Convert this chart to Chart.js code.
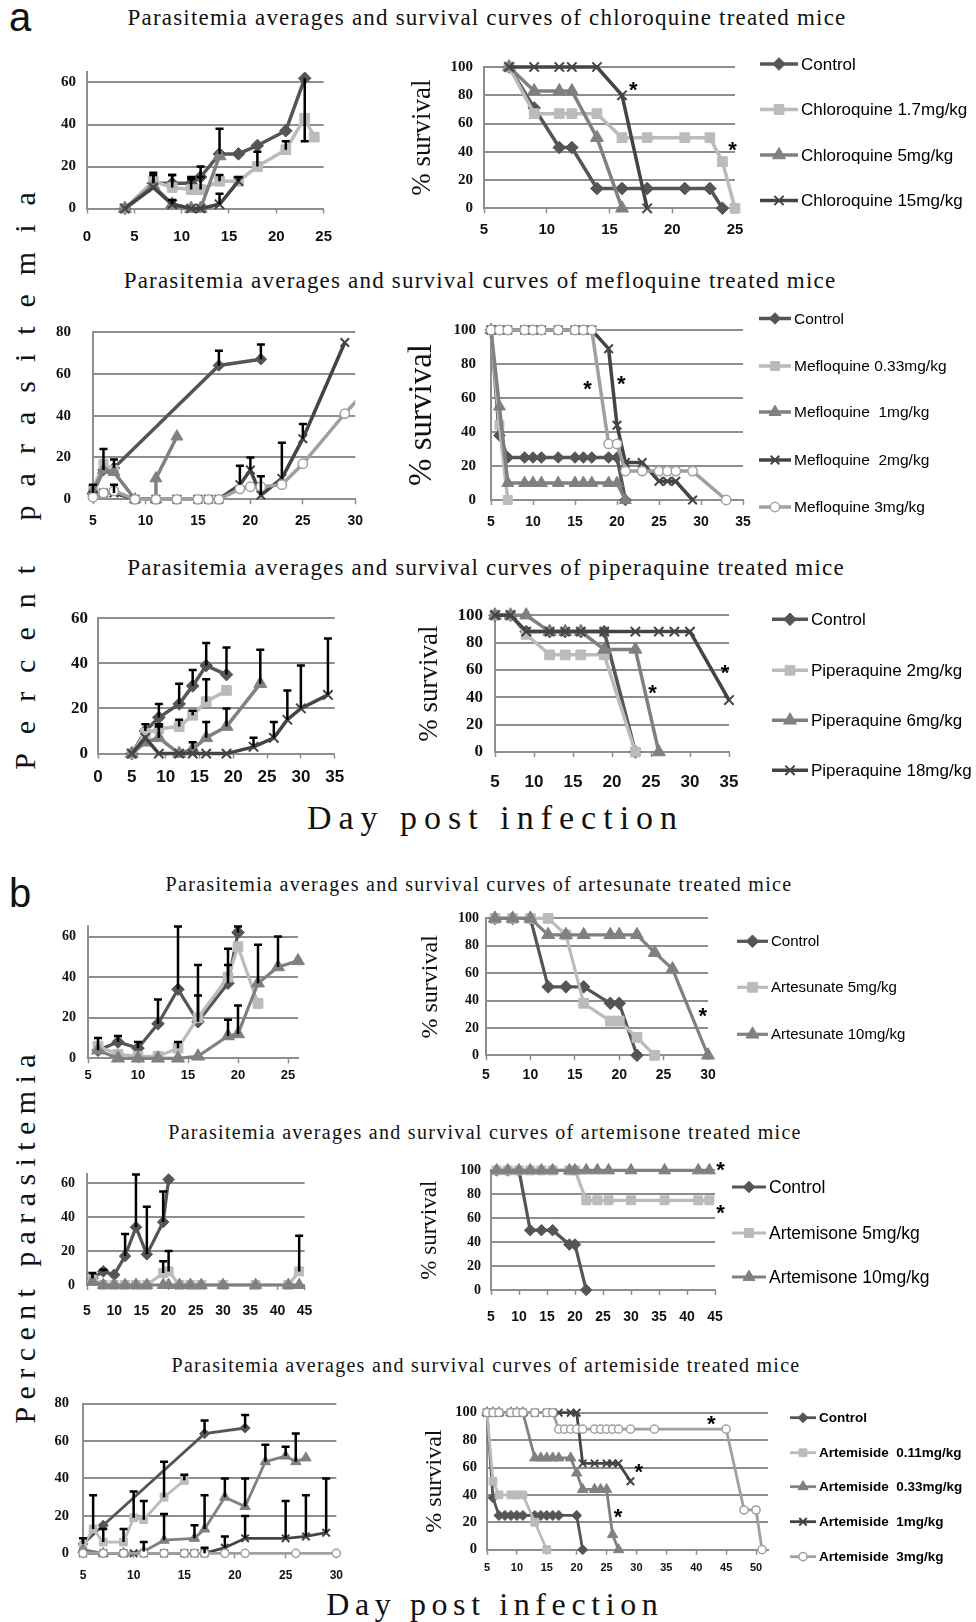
<!DOCTYPE html>
<html>
<head>
<meta charset="utf-8">
<script src="https://cdn.jsdelivr.net/npm/chart.js@4.4.0/dist/chart.umd.min.js"></script>
<style>
  html, body { margin: 0; padding: 0; background: #fff; }
  body { width: 976px; height: 1622px; position: relative; overflow: hidden; }
  .t { position: absolute; white-space: nowrap; line-height: 1; color: #111; }
  .serif { font-family: "Liberation Serif", "Times New Roman", serif; }
  .sans { font-family: "Liberation Sans", Arial, sans-serif; }
  .c { transform: translateX(-50%); }
  .rot { transform: translate(-50%, -50%) rotate(-90deg); }
  canvas { position: absolute; }
</style>
</head>
<body>

<div class="t sans" style="left:9px;top:-3px;font-size:40px">a</div>
<div class="t sans" style="left:9px;top:873px;font-size:40px">b</div>

<div class="t serif c" style="left:487px;top:5.7px;font-size:23px;letter-spacing:1.2px">Parasitemia averages and survival curves of chloroquine treated mice</div>
<div class="t serif c" style="left:480px;top:268.7px;font-size:23px;letter-spacing:1.2px">Parasitemia averages and survival curves of mefloquine treated mice</div>
<div class="t serif c" style="left:486px;top:555.7px;font-size:23px;letter-spacing:1.2px">Parasitemia averages and survival curves of piperaquine treated mice</div>
<div class="t serif c" style="left:479px;top:874px;font-size:20px;letter-spacing:1.3px">Parasitemia averages and survival curves of artesunate treated mice</div>
<div class="t serif c" style="left:485px;top:1122px;font-size:20px;letter-spacing:1.3px">Parasitemia averages and survival curves of artemisone treated mice</div>
<div class="t serif c" style="left:486px;top:1355px;font-size:20px;letter-spacing:1.3px">Parasitemia averages and survival curves of artemiside treated mice</div>

<div class="t serif rot" style="left:25px;top:481px;font-size:30px;letter-spacing:19px;padding-left:19px">Percent parasitemia</div>
<div class="t serif rot" style="left:25px;top:1239px;font-size:30px;letter-spacing:7.4px;padding-left:7.4px">Percent parasitemia</div>

<div class="t serif c" style="left:492px;top:801px;font-size:34px;letter-spacing:7px;padding-left:7px">Day post infection</div>
<div class="t serif c" style="left:492px;top:1588px;font-size:32px;letter-spacing:5.6px;padding-left:5.6px">Day post infection</div>

<script>
// ---- data: [day, value, error bar (optional)] ----
const cqParaControl = [[4,0],[7,12,5],[9,12,4],[11,12,3],[12,15,5],[14,26,12],[16,26],[18,30],[21,37],[23,62,-30]];
const cqPara17 = [[4,0],[7,13,3],[9,10,6],[11,9,5],[12,9,6],[14,13,3],[16,13],[18,20,7],[21,28,4],[23,43],[24,34]];
const cqPara5 = [[4,0],[7,11],[9,2,2],[11,0],[12,0],[14,25]];
const cqPara15 = [[4,0],[7,10],[9,2],[11,0],[12,0],[14,2,5],[16,13,2]];
const cqSurvControl = [[7,100],[9,71],[11,43],[12,43],[14,14],[16,14],[18,14],[21,14],[23,14],[24,0]];
const cqSurv17 = [[7,100],[9,67],[11,67],[12,67],[14,67],[16,50],[18,50],[21,50],[23,50],[24,33],[25,0]];
const cqSurv5 = [[7,100],[9,83],[11,83],[12,83],[14,50],[16,0]];
const cqSurv15 = [[7,100],[9,100],[11,100],[12,100],[14,100],[16,80],[18,0]];
const cqStars = [[16.9,86],[24.8,43]];
const cqNames = ['Control','Chloroquine 1.7mg/kg','Chloroquine 5mg/kg','Chloroquine 15mg/kg'];

const mqParaControl = [[5,3,4],[6,14,10],[7,15,4],[17,64,7],[21,67,7]];
const mqPara033 = [[5,5],[6,17],[7,14]];
const mqPara1 = [[5,4],[6,14],[7,13],[9,0],[11,0],[11,10],[13,30]];
const mqPara2 = [[5,2],[6,3],[7,3,4],[9,0],[11,0],[13,0],[15,0],[16,0],[17,0],[19,7,9],[20,14,6],[21,2,9],[23,10,17],[25,29,7],[29,75]];
const mqPara3 = [[5,1],[6,3],[7,4],[9,0],[11,0],[13,0],[15,0],[16,0],[17,0],[19,5],[20,6],[21,6],[23,7],[25,17],[29,41],[31,52]];
const mqSurvControl = [[5,100],[6,38],[7,25],[9,25],[10,25],[11,25],[13,25],[15,25],[16,25],[17,25],[19,25],[20,25],[21,0]];
const mqSurv033 = [[5,100],[6,44],[7,0]];
const mqSurv1 = [[5,100],[6,55],[7,10],[9,10],[10,10],[11,10],[13,10],[15,10],[16,10],[17,10],[19,10],[20,10],[21,0]];
const mqSurv2 = [[5,100],[6,100],[7,100],[9,100],[10,100],[11,100],[13,100],[15,100],[16,100],[17,100],[19,89],[20,44],[21,22],[23,22],[25,11],[26,11],[27,11],[29,0]];
const mqSurv3 = [[5,100],[6,100],[7,100],[9,100],[10,100],[11,100],[13,100],[15,100],[16,100],[17,100],[19,33],[20,33],[21,17],[23,17],[25,17],[26,17],[27,17],[29,17],[33,0]];
const mqStars = [[16.5,67],[20.5,70]];
const mqNames = ['Control','Mefloquine 0.33mg/kg','Mefloquine  1mg/kg','Mefloquine  2mg/kg','Mefloquine 3mg/kg'];

const ppParaControl = [[5,0],[7,10,3],[9,16,6],[12,22,9],[14,30,7],[16,39,10],[19,35,12]];
const ppPara2 = [[5,0],[7,9],[9,11,2],[12,12,3],[14,17,2],[16,23,10],[19,28]];
const ppPara6 = [[5,0],[7,5],[9,7,5],[12,0],[14,2,3],[16,7,7],[19,12,8],[24,31,15]];
const ppPara18 = [[5,0],[7,7],[9,0],[12,0],[14,0],[16,0],[19,0],[23,3,4],[26,7,7],[28,15,13],[30,20,19],[34,26,25]];
const ppSurvControl = [[5,100],[7,100],[9,88],[12,88],[14,88],[16,88],[19,88],[23,0]];
const ppSurv2 = [[5,100],[7,100],[9,86],[12,71],[14,71],[16,71],[19,71],[23,0]];
const ppSurv6 = [[5,100],[7,100],[9,100],[12,88],[14,88],[16,88],[19,75],[23,75],[26,0]];
const ppSurv18 = [[5,100],[7,100],[9,88],[12,88],[14,88],[16,88],[19,88],[23,88],[26,88],[28,88],[30,88],[35,38]];
const ppStars = [[25.2,45],[34.5,60]];
const ppNames = ['Control','Piperaquine 2mg/kg','Piperaquine 6mg/kg','Piperaquine 18mg/kg'];

const asParaControl = [[6,4,6],[8,8,3],[10,5,3],[12,17,12],[14,34,31],[16,18,28],[19,37,17],[20,62,3]];
const asPara5 = [[6,6],[8,2],[10,1],[12,1],[14,5,3],[16,20,11],[19,40,6],[20,55],[22,27]];
const asPara10 = [[6,4],[8,0],[10,0],[12,0],[14,0],[16,1],[19,11,8],[20,12,14],[22,37,19],[24,45,15],[26,48]];
const asSurvControl = [[6,100],[8,100],[10,100],[12,50],[14,50],[16,50],[19,38],[20,38],[22,0]];
const asSurv5 = [[6,100],[8,100],[10,100],[12,100],[14,88],[16,38],[19,25],[20,25],[22,13],[24,0]];
const asSurv10 = [[6,100],[8,100],[10,100],[12,88],[14,88],[16,88],[19,88],[20,88],[22,88],[24,75],[26,63],[30,0]];
const asStars = [[29.4,31]];
const asNames = ['Control','Artesunate 5mg/kg','Artesunate 10mg/kg'];

const amParaControl = [[6,4,3],[8,8,1],[10,6],[12,17,13],[14,34,31],[16,18,28],[19,37,18],[20,62]];
const amPara5 = [[6,3],[8,0],[10,0],[12,0],[14,0],[16,0],[19,7,7],[20,8,12],[22,0],[24,0],[26,0],[30,0],[36,0],[42,0],[44,8,21]];
const amPara10 = [[6,2],[8,0],[10,0],[12,0],[14,0],[16,0],[19,0],[20,0],[22,0],[24,0],[26,0],[30,0],[36,0],[42,0],[44,0]];
const amSurvControl = [[6,100],[8,100],[10,100],[12,50],[14,50],[16,50],[19,38],[20,38],[22,0]];
const amSurv5 = [[6,100],[8,100],[10,100],[12,100],[14,100],[16,100],[19,100],[20,100],[22,75],[24,75],[26,75],[30,75],[36,75],[42,75],[44,75]];
const amSurv10 = [[6,100],[8,100],[10,100],[12,100],[14,100],[16,100],[19,100],[20,100],[22,100],[24,100],[26,100],[30,100],[36,100],[42,100],[44,100]];
const amStars = [[46,103],[46,67]];
const amNames = ['Control','Artemisone 5mg/kg','Artemisone 10mg/kg'];

const aiParaControl = [[5,5,3],[7,15],[17,64,7],[21,67,7]];
const aiPara011 = [[5,4],[6,13,18],[7,6,7],[9,6,7],[10,19,14],[11,18,10],[13,30,19],[15,39,3]];
const aiPara033 = [[5,2],[7,0],[9,0],[11,1,5],[13,7,14],[16,8,7],[17,13,18],[19,30,10],[21,25,15],[23,49,9],[25,52,5],[26,49,15],[27,51]];
const aiPara1 = [[5,0],[7,0],[9,0],[10,0],[11,0],[13,0],[15,0],[16,0],[17,0,3],[19,3,6],[21,8,12],[25,8,20],[27,9,22],[29,11,29]];
const aiPara3 = [[5,0],[7,0],[9,0],[11,0],[13,0],[15,0],[16,0],[17,0],[19,0],[21,0],[26,0],[30,0]];
const aiSurvControl = [[5,100],[6,38],[7,25],[8,25],[9,25],[10,25],[11,25],[13,25],[14,25],[15,25],[16,25],[17,25],[20,25],[21,0]];
const aiSurv011 = [[5,100],[6,50],[7,40],[9,40],[10,40],[11,40],[13,20],[15,0]];
const aiSurv033 = [[5,100],[6,100],[7,100],[9,100],[10,100],[11,100],[13,67],[14,67],[15,67],[16,67],[17,67],[19,67],[20,56],[21,44],[23,44],[24,44],[25,44],[26,11],[27,0]];
const aiSurv1 = [[5,100],[6,100],[7,100],[9,100],[10,100],[11,100],[13,100],[15,100],[16,100],[17,100],[19,100],[20,100],[21,63],[23,63],[25,63],[26,63],[27,63],[29,50]];
const aiSurv3 = [[5,100],[6,100],[7,100],[9,100],[10,100],[11,100],[13,100],[15,100],[16,100],[17,88],[18,88],[19,88],[20,88],[21,88],[23,88],[24,88],[25,88],[26,88],[27,88],[29,88],[33,88],[45,88],[48,29],[50,29],[51,0]];
const aiStars = [[42.5,94],[30.4,59],[26.9,26]];
const aiNames = ['Control','Artemiside  0.11mg/kg','Artemiside  0.33mg/kg','Artemiside  1mg/kg','Artemiside  3mg/kg'];

// ---- styling ----
const GRID = '#8e8e8e';
const INK = '#111';
const STYLE = {
  ctrl: { color: '#555555', fill: '#555555', point: 'rectRot', k: 1.05 },
  sq:   { color: '#bbbbbb', fill: '#bbbbbb', point: 'rect', k: 1.15 },
  tri:  { color: '#808080', fill: '#808080', point: 'triangle', k: 1.25 },
  x:    { color: '#444444', fill: '#444444', point: 'crossRot', k: 1.1 },
  o:    { color: '#a0a0a0', fill: '#ffffff', point: 'circle', k: 0.85 }
};
const ORDER = ['ctrl', 'sq', 'tri', 'x', 'o'];

const onSteps = step => s => {
  s.ticks = s.ticks.filter(t => Math.abs(t.value / step - Math.round(t.value / step)) < 1e-6);
};

// error bars, asterisks and the line+marker legend
const extras = {
  id: 'extras',
  afterDatasetsDraw(chart, args, o) {
    const ctx = chart.ctx, xs = chart.scales.x, ys = chart.scales.y;
    ctx.save();
    ctx.strokeStyle = '#000';
    ctx.lineWidth = o.errWidth || 2.5;
    chart.data.datasets.forEach(ds => {
      (ds.errs || []).forEach((e, j) => {
        if (e == null) return;
        const p = ds.data[j];
        const px = xs.getPixelForValue(p.x);
        const y0 = ys.getPixelForValue(p.y), y1 = ys.getPixelForValue(p.y + e);
        ctx.beginPath();
        ctx.moveTo(px, y0); ctx.lineTo(px, y1);
        ctx.moveTo(px - 4, y1); ctx.lineTo(px + 4, y1);
        ctx.stroke();
      });
    });
    ctx.restore();
  },
  afterDraw(chart, args, o) {
    const ctx = chart.ctx, xs = chart.scales.x, ys = chart.scales.y;
    ctx.save();
    ctx.fillStyle = '#000';
    ctx.font = 'bold ' + o.starSize + 'px "Liberation Sans"';
    ctx.textAlign = 'center';
    ctx.textBaseline = 'alphabetic';
    (o.stars || []).forEach(s => {
      ctx.fillText('*', xs.getPixelForValue(s[0]), ys.getPixelForValue(s[1]) + o.starSize * 0.45);
    });
    const L = o.legend;
    if (L) {
      chart.data.datasets.forEach((ds, i) => {
        const y = L.ys[i] - o.top, x0 = L.x - o.left;
        ctx.strokeStyle = ds.borderColor;
        ctx.lineWidth = ds.borderWidth;
        ctx.beginPath(); ctx.moveTo(x0, y); ctx.lineTo(x0 + L.len, y); ctx.stroke();
        ctx.fillStyle = ds.pointBackgroundColor;
        ctx.strokeStyle = ds.pointBorderColor;
        ctx.lineWidth = ds.pointBorderWidth;
        Chart.helpers.drawPoint(ctx, { pointStyle: ds.pointStyle, radius: ds.pointRadius, borderWidth: ds.pointBorderWidth, rotation: 0 }, x0 + L.len / 2, y);
        ctx.fillStyle = '#000';
        ctx.font = L.font;
        ctx.textAlign = 'left';
        ctx.textBaseline = 'middle';
        ctx.fillText(L.names[i], x0 + L.len + 3, y + 1);
      });
    }
    ctx.restore();
  }
};
Chart.register(extras);

function makeChart(c) {
  const [L, T, R, B] = c.plot;
  const padT = c.padT || 14;
  const left = L - c.yW, top = T - padT;
  const w = Math.ceil(R - L + c.yW + c.padR);
  const h = Math.ceil(B - T + padT + 44);
  const xH = h - padT - (B - T);
  const cv = document.createElement('canvas');
  cv.width = w; cv.height = h;
  cv.style.left = left + 'px';
  cv.style.top = top + 'px';
  document.body.appendChild(cv);

  const datasets = c.series.map((s, i) => {
    const st = STYLE[ORDER[i]];
    return {
      data: s.map(p => ({ x: p[0], y: p[1] })),
      errs: s.map(p => (p.length > 2 ? p[2] : null)),
      showLine: true,
      borderColor: st.color,
      backgroundColor: st.fill,
      borderWidth: c.lw,
      pointStyle: st.point,
      pointRadius: c.r * st.k,
      pointBackgroundColor: st.fill,
      pointBorderColor: st.color,
      pointBorderWidth: st.point === 'crossRot' ? 2 : (st.point === 'circle' ? 1.5 : 1),
      tension: 0,
      order: -i,
      clip: c.clipRight ? { left: false, top: false, right: 0, bottom: false } : false
    };
  });

  return new Chart(cv, {
    type: 'scatter',
    data: { datasets },
    options: {
      responsive: false,
      animation: false,
      events: [],
      layout: { padding: { left: 0, top: padT, right: w - c.yW - (R - L), bottom: 0 } },
      plugins: {
        legend: { display: false },
        tooltip: { enabled: false },
        extras: {
          stars: c.stars, starSize: c.starSize || 22, errWidth: c.errWidth || 2.5,
          legend: c.names ? { names: c.names, x: c.lx, ys: c.lys, len: c.llen, font: c.lfont } : null,
          left: left, top: top
        }
      },
      scales: {
        x: {
          type: 'linear', min: c.x[0], max: c.x[1],
          afterBuildTicks: onSteps(c.x[2]),
          afterFit: s => { s.height = xH; },
          ticks: {
            stepSize: c.x[2], includeBounds: false, autoSkip: false, maxRotation: 0, minRotation: 0,
            color: INK, padding: c.xOff - 5 - 0.6 * c.xFont,
            font: { family: 'Liberation Sans', weight: 'bold', size: c.xFont }
          },
          grid: { drawOnChartArea: false, drawTicks: true, tickLength: 5, tickColor: GRID, tickWidth: 1.5 },
          border: { display: true, color: GRID, width: 2 }
        },
        y: {
          type: 'linear', min: c.y[0], max: c.y[1],
          afterBuildTicks: onSteps(c.y[2]),
          afterFit: s => { s.width = c.yW; },
          ticks: {
            stepSize: c.y[2], includeBounds: false, color: INK, padding: c.yPad,
            font: { family: 'Liberation Serif', weight: 'bold', size: c.yFont }
          },
          grid: { color: GRID, lineWidth: 2, drawTicks: false },
          border: { display: true, color: GRID, width: 2 },
          title: c.title
            ? { display: true, text: '% survival', color: INK, padding: 0, font: { family: 'Liberation Serif', size: c.title, lineHeight: 1.2 } }
            : { display: false }
        }
      }
    }
  });
}

// ---- panel a ----
makeChart({ plot: [87, 65.8, 328, 208.3], x: [0, 25, 5], y: [0, 65, 20], yW: 60, padR: 18,
  series: [cqParaControl, cqPara17, cqPara5, cqPara15], lw: 3.5, r: 6,
  xFont: 15, yFont: 15, xOff: 28, yPad: 11 });
makeChart({ plot: [484, 61, 735, 208.3], x: [5, 25, 5], y: [0, 100, 20], yW: 77, padR: 241,
  series: [cqSurvControl, cqSurv17, cqSurv5, cqSurv15], lw: 3.5, r: 6, stars: cqStars,
  xFont: 15, yFont: 15, xOff: 22, yPad: 11, title: 27,
  names: cqNames, lx: 760, lys: [64, 109.5, 155, 200.5], llen: 38, lfont: '17px "Liberation Sans"' });

makeChart({ plot: [92.7, 315, 355, 499.3], x: [5, 30, 5], y: [0, 80, 20], yW: 60, padR: 18, clipRight: true,
  series: [mqParaControl, mqPara033, mqPara1, mqPara2, mqPara3], lw: 3.5, r: 5.5,
  xFont: 14, yFont: 15, xOff: 22, yPad: 22 });
makeChart({ plot: [491, 330, 743, 500], x: [5, 35, 5], y: [0, 100, 20], yW: 88, padR: 233, padT: 30,
  series: [mqSurvControl, mqSurv033, mqSurv1, mqSurv2, mqSurv3], lw: 3.5, r: 5.5, stars: mqStars,
  xFont: 14, yFont: 15, xOff: 22, yPad: 15, title: 33,
  names: mqNames, lx: 759, lys: [318.5, 366, 412, 460, 507], llen: 32, lfont: '15.5px "Liberation Sans"' });

makeChart({ plot: [98.3, 611.7, 335, 753.3], x: [0, 35, 5], y: [0, 60, 20], yW: 60, padR: 18,
  series: [ppParaControl, ppPara2, ppPara6, ppPara18], lw: 3.5, r: 6,
  xFont: 17, yFont: 17, xOff: 24, yPad: 10 });
makeChart({ plot: [495, 606.7, 729, 751.7], x: [5, 35, 5], y: [0, 100, 20], yW: 81, padR: 247,
  series: [ppSurvControl, ppSurv2, ppSurv6, ppSurv18], lw: 3.5, r: 6, stars: ppStars,
  xFont: 17, yFont: 17, xOff: 30, yPad: 12, title: 27,
  names: ppNames, lx: 772, lys: [619, 670, 720, 770], llen: 36, lfont: '17px "Liberation Sans"' });

// ---- panel b ----
makeChart({ plot: [88, 920, 298, 1058.3], x: [5, 26, 5], y: [0, 65, 20], yW: 60, padR: 18,
  series: [asParaControl, asPara5, asPara10], lw: 3.2, r: 6,
  xFont: 13, yFont: 14, xOff: 17, yPad: 12 });
makeChart({ plot: [486, 916.7, 708, 1055], x: [5, 30, 5], y: [0, 100, 20], yW: 70, padR: 268,
  series: [asSurvControl, asSurv5, asSurv10], lw: 3.2, r: 6, stars: asStars,
  xFont: 14, yFont: 14, xOff: 20, yPad: 7, title: 24,
  names: asNames, lx: 737, lys: [941, 987, 1034], llen: 31, lfont: '15px "Liberation Sans"' });

makeChart({ plot: [87.3, 1168.3, 306.7, 1285.3], x: [5, 45, 5], y: [0, 65, 20], yW: 60, padR: 18,
  series: [amParaControl, amPara5, amPara10], lw: 3.2, r: 5.5,
  xFont: 14, yFont: 14, xOff: 26, yPad: 12 });
makeChart({ plot: [491, 1166, 715, 1290], x: [5, 45, 5], y: [0, 100, 20], yW: 75, padR: 261,
  series: [amSurvControl, amSurv5, amSurv10], lw: 3.2, r: 5.5, stars: amStars,
  xFont: 14, yFont: 14, xOff: 27, yPad: 10, title: 23,
  names: amNames, lx: 732, lys: [1187, 1233, 1277], llen: 34, lfont: '17.5px "Liberation Sans"' });

makeChart({ plot: [82.7, 1395, 336, 1553.3], x: [5, 30, 5], y: [0, 80, 20], yW: 60, padR: 18,
  series: [aiParaControl, aiPara011, aiPara033, aiPara1, aiPara3], lw: 2.8, r: 4.8,
  xFont: 12, yFont: 14.5, xOff: 22, yPad: 14 });
makeChart({ plot: [487, 1408.3, 768, 1550], x: [5, 52, 5], y: [0, 100, 20], yW: 67, padR: 208,
  series: [aiSurvControl, aiSurv011, aiSurv033, aiSurv1, aiSurv3], lw: 2.8, r: 4.8, stars: aiStars,
  xFont: 11, yFont: 14.5, xOff: 18, yPad: 10, title: 24,
  names: aiNames, lx: 790, lys: [1418, 1453, 1487, 1522, 1557], llen: 26, lfont: 'bold 13.5px "Liberation Sans"' });
</script>
</body>
</html>
